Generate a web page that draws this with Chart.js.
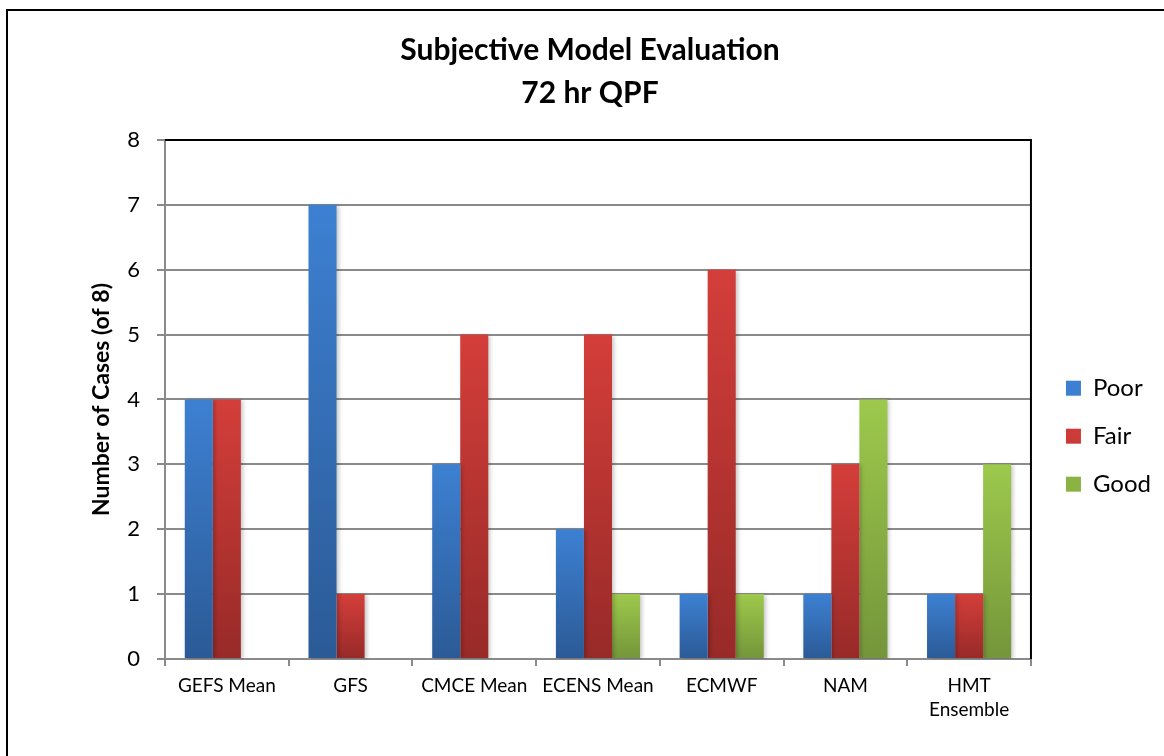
<!DOCTYPE html>
<html>
<head>
<meta charset="utf-8">
<script src="https://cdn.jsdelivr.net/npm/chart.js@4.4.1/dist/chart.umd.min.js"></script>
<style>
    body { margin: 0; background: #fff; overflow: hidden; }
    #wrap { position: relative; width: 1164px; height: 756px; }
    #frame { position: absolute; left: 6px; top: 9px; width: 1200px; height: 800px;
             border-left: 2px solid #000; border-top: 2px solid #000; }
    #chart { position: absolute; left: 0; top: 0; }
</style>
</head>
<body>
<div id="wrap">
    <div id="frame"></div>
    <canvas id="chart" width="1164" height="756"></canvas>
</div>
<script>
    var models = ['GEFS Mean', 'GFS', 'CMCE Mean', 'ECENS Mean', 'ECMWF', 'NAM', ['HMT', 'Ensemble']];
    var poor = [4, 7, 3, 2, 1, 1, 1];
    var fair = [4, 1, 5, 5, 6, 3, 1];
    var good = [0, 0, 0, 1, 1, 4, 3];
    var yTicks = [0, 1, 2, 3, 4, 5, 6, 7, 8];

    var FONT = 'Lato, "Open Sans", sans-serif';

    /**
     * Vertical gradient for each bar, light at the top and dark at the base.
     */
    function barGradient(light, dark, mid) {
        return function (context) {
            var chart = context.chart;
            if (context.type !== 'data' || !chart.chartArea) {
                return mid;
            }
            var y = chart.scales.y;
            var top = y.getPixelForValue(context.raw);
            var bottom = y.getPixelForValue(0);
            if (bottom - top < 1) {
                return mid;
            }
            var g = chart.ctx.createLinearGradient(0, top, 0, bottom);
            g.addColorStop(0, light);
            g.addColorStop(1, dark);
            return g;
        };
    }

    // thin shadow to the right of the bars, and the black top/right frame of the plot
    var plotFrame = {
        id: 'plotFrame',
        beforeDatasetsDraw: function (chart) {
            var ctx = chart.ctx;
            ctx.save();
            ctx.shadowColor = 'rgba(0,0,0,0.22)';
            ctx.shadowBlur = 4;
            ctx.shadowOffsetX = 2;
            ctx.shadowOffsetY = 1;
        },
        afterDatasetsDraw: function (chart) {
            chart.ctx.restore();
        },
        afterDraw: function (chart) {
            var a = chart.chartArea;
            var ctx = chart.ctx;
            ctx.save();
            ctx.strokeStyle = '#000';
            ctx.lineWidth = 2;
            ctx.beginPath();
            ctx.moveTo(a.left, a.top);
            ctx.lineTo(a.right, a.top);
            ctx.lineTo(a.right, a.bottom);
            ctx.stroke();
            ctx.restore();
        },
        afterUpdate: function (chart) {
            // nudge the legend a little away from the plot
            chart.legend.left += 11;
            chart.legend.right += 11;
        }
    };

    var ctx = document.getElementById('chart');
    new Chart(ctx, {
        type: 'bar',
        data: {
            labels: models,
            datasets: [
                {
                    label: 'Poor',
                    data: poor,
                    backgroundColor: barGradient('#3d80d2', '#2b5a96', '#3470b8')
                },
                {
                    label: 'Fair',
                    data: fair,
                    backgroundColor: barGradient('#d43e3a', '#972a28', '#c03532')
                },
                {
                    label: 'Good',
                    data: good,
                    backgroundColor: barGradient('#9dc94c', '#74953a', '#8ab344')
                }
            ]
        },
        options: {
            responsive: false,
            animation: false,
            layout: {
                padding: { left: 30, right: 14, top: 0, bottom: 0 }
            },
            datasets: {
                bar: {
                    categoryPercentage: 0.68,
                    barPercentage: 1.0,
                    borderWidth: 0
                }
            },
            plugins: {
                title: {
                    display: true,
                    text: ['Subjective Model Evaluation', '72 hr QPF'],
                    color: '#000',
                    font: { family: FONT, size: 30, weight: 'bold', lineHeight: 1.433 },
                    padding: { top: 29, bottom: 25 }
                },
                legend: {
                    position: 'right',
                    title: {
                        display: true,
                        text: '',
                        font: { size: 12, lineHeight: 1.2 },
                        padding: { top: 102, bottom: 0 }
                    },
                    labels: {
                        color: '#000',
                        boxWidth: 15,
                        boxHeight: 15,
                        padding: 24,
                        font: { family: FONT, size: 24 }
                    }
                },
                tooltip: { enabled: false }
            },
            scales: {
                x: {
                    offset: true,
                    afterFit: function (scale) { scale.height = 97; },
                    grid: {
                        offset: true,
                        drawOnChartArea: false,
                        drawTicks: true,
                        tickLength: 7,
                        color: '#8a8a8a',
                        lineWidth: 2
                    },
                    border: { color: '#8a8a8a', width: 2 },
                    ticks: {
                        color: '#000',
                        padding: 8,
                        maxRotation: 0,
                        autoSkip: false,
                        font: { family: FONT, size: 19, lineHeight: 1.25 }
                    }
                },
                y: {
                    min: 0,
                    max: 8,
                    afterFit: function (scale) { scale.width = 135; },
                    afterBuildTicks: function (scale) {
                        scale.ticks = yTicks.map(function (v) { return { value: v }; });
                    },
                    grid: {
                        color: '#8a8a8a',
                        lineWidth: 2,
                        tickLength: 8
                    },
                    border: { color: '#8a8a8a', width: 2 },
                    ticks: {
                        color: '#000',
                        padding: 17,
                        font: { family: FONT, size: 22 }
                    },
                    title: {
                        display: true,
                        text: 'Number of Cases (of 8)',
                        color: '#000',
                        font: { family: FONT, size: 23, weight: 'bold', lineHeight: 1.2 },
                        padding: { top: 58, bottom: 0 }
                    }
                }
            }
        },
        plugins: [plotFrame]
    });
</script>
</body>
</html>
